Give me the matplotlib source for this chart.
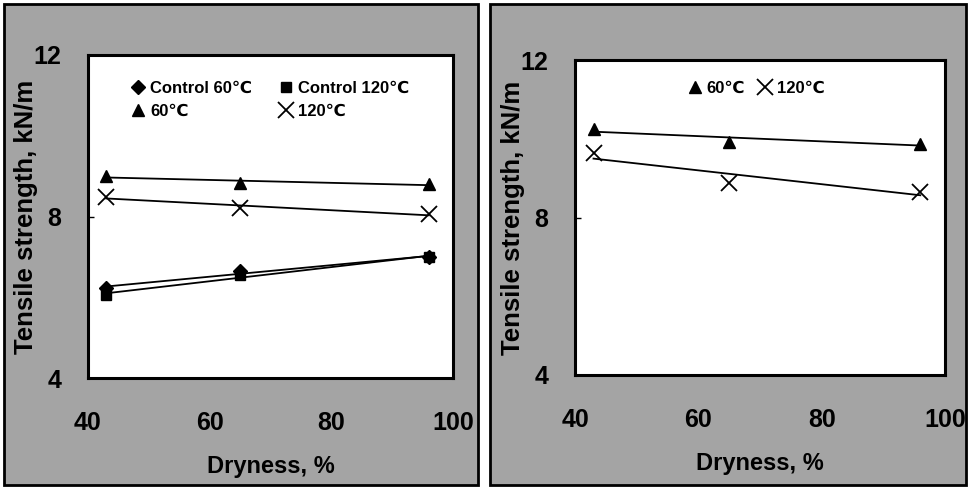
import numpy as np
import matplotlib
matplotlib.use("Agg")
import matplotlib.pyplot as plt
from matplotlib.patches import Rectangle

plt.rcParams['font.family'] = ['Liberation Sans', 'DejaVu Sans']
plt.rcParams['font.weight'] = 'bold'

# data
dryness = [43, 65, 96]

left_control_60 = [6.22, 6.66, 6.99]
left_control_120 = [6.06, 6.55, 7.00]
left_60 = [9.00, 8.83, 8.80]
left_120 = [8.49, 8.20, 8.06]

right_60 = [10.24, 9.93, 9.87]
right_120 = [9.63, 8.88, 8.66]

xticks = [40, 60, 80, 100]
yticks = [4, 8, 12]

W, H = 969, 488
fig = plt.figure(figsize=(W / 100, H / 100), dpi=100)
fig.patch.set_facecolor('white')

gray = '#a4a4a4'


def fr(x0, y0, x1, y1):
    # pixel box (from top-left) -> figure fraction rect
    return [x0 / W, 1 - y1 / H, (x1 - x0) / W, (y1 - y0) / H]


# scanned panel backgrounds
for (x0, y0, x1, y1) in [(4, 4, 478, 485), (490, 4, 966, 485)]:
    r = fr(x0, y0, x1, y1)
    fig.patches.append(Rectangle((r[0], r[1]), r[2], r[3], transform=fig.transFigure,
                                 facecolor=gray, edgecolor='black', linewidth=2, zorder=-5))

mk = dict(color='black', linestyle='none')


def trend(ax, x, y):
    p = np.polyfit(x, y, 1)
    xx = np.array([x[0], x[-1]])
    ax.plot(xx, np.polyval(p, xx), color='black', lw=1.3, zorder=2)


def style(ax):
    ax.set_facecolor('white')
    ax.set_xlim(40, 100)
    ax.set_ylim(4, 12)
    ax.set_xticks(xticks)
    ax.set_yticks(yticks)
    ax.tick_params(axis='x', length=0, pad=24, labelsize=18)
    ax.tick_params(axis='y', direction='in', length=4, width=1, pad=19, labelsize=18)
    for lab in ax.get_xticklabels() + ax.get_yticklabels():
        lab.set_fontweight('bold')
    for s in ax.spines.values():
        s.set_linewidth(2.2)
    ax.set_xlabel('Dryness, %', fontsize=17, fontweight='bold', labelpad=14)
    ax.set_ylabel('Tensile strength, kN/m', fontsize=18.5, fontweight='bold')


# left panel
ax1 = fig.add_axes(fr(88, 55, 453, 378))
style(ax1)
for y in [left_control_60, left_control_120, left_60, left_120]:
    trend(ax1, dryness, y)
h1, = ax1.plot(dryness, left_control_60, marker='D', ms=7.5, zorder=4, **mk)
h2, = ax1.plot(dryness, left_control_120, marker='s', ms=7, zorder=3, **mk)
h3, = ax1.plot(dryness, left_60, marker='^', ms=9, zorder=3, **mk)
h4, = ax1.plot(dryness, left_120, marker='x', ms=11, mew=1.3, zorder=3, **mk)
ax1.legend([h1, h3, h2, h4], ['Control 60℃', '60℃', 'Control 120℃', '120℃'],
           ncol=2, loc='upper center', bbox_to_anchor=(0.50, 0.965), frameon=False,
           prop={'size': 12, 'weight': 'bold'}, handlelength=0.8, handletextpad=0.3,
           columnspacing=1.65, labelspacing=0.43)
ax1.yaxis.set_label_coords(-0.137, 0.5)

# right panel
ax2 = fig.add_axes(fr(575, 60, 945, 375))
style(ax2)
trend(ax2, dryness, right_60)
trend(ax2, dryness, right_120)
g1, = ax2.plot(dryness, right_60, marker='^', ms=9, zorder=3, **mk)
g2, = ax2.plot(dryness, right_120, marker='x', ms=11, mew=1.3, zorder=3, **mk)
ax2.legend([g1, g2], ['60℃', '120℃'], ncol=2, loc='upper center',
           bbox_to_anchor=(0.49, 0.98), frameon=False,
           prop={'size': 12, 'weight': 'bold'}, handlelength=0.8, handletextpad=0.3,
           columnspacing=0.8)
ax2.yaxis.set_label_coords(-0.135, 0.5)

fig.savefig('out.png', dpi=100, facecolor=fig.get_facecolor())
